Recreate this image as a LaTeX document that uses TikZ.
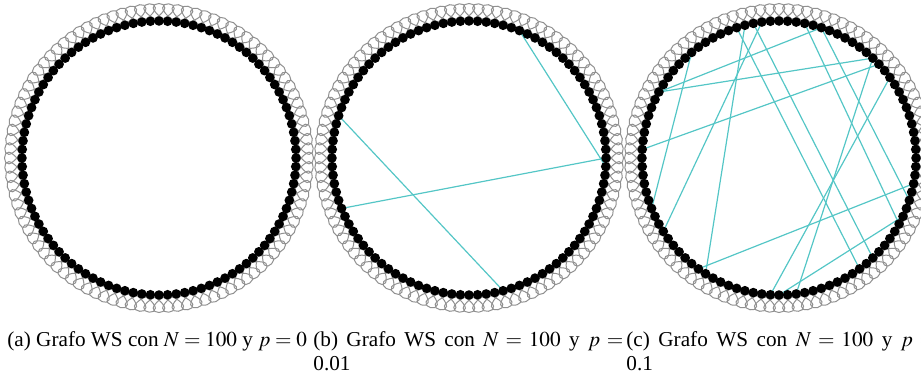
\documentclass[tikz,border=0pt]{standalone}
\usepackage{mathptmx}
\usepackage{fontspec}
\setmainfont{Liberation Serif}
\definecolor{wscyan}{RGB}{84,198,198}
\definecolor{wsgray}{RGB}{145,145,145}
\begin{document}
\begin{tikzpicture}[x=0.5pt,y=0.5pt,
  vtx/.style={circle,fill=black,inner sep=0pt,minimum size=4.8pt},
  ring/.style={draw=wsgray,line width=0.5pt},
  chord/.style={draw=wscyan,line width=0.6pt},
  captext/.style={anchor=base west,inner sep=0pt,text width=155pt,align=justify,font=\fontsize{10.6}{12}\selectfont}]
\useasboundingbox (0,0) rectangle (921,372);
% vertex positions
\foreach \g/\cx in {a/159,b/469,c/779}{
  \foreach \i in {0,...,99}{
    \coordinate (\g\i) at ([shift={(\cx,214)}]\i*3.6:137);
  }
}
% ring lattice loops (i -- i+2)
\foreach \g in {a,b,c}{
  \foreach \i in {0,...,99}{
    \pgfmathtruncatemacro{\j}{mod(\i+2,100)}
    \pgfmathsetmacro{\aa}{\i*3.6+64}
    \pgfmathsetmacro{\bb}{(\i+2)*3.6-64}
    \draw[ring] (\g\i) .. controls +(\aa:48) and +(\bb:48) .. (\g\j);
  }
}
% rewired edges
\foreach \u/\v in {19/99,45/79,56/0}{
  \draw[chord] (b\u) -- (b\v);
}
\foreach \u/\v in {20/42,13/42,12/49,29/66,27/59,30/85,28/87,22/92,20/95,74/10,77/13,65/97,56/36,75/93}{
  \draw[chord] (c\u) -- (c\v);
}
% vertices
\foreach \g in {a,b,c}{
  \foreach \i in {0,...,99}{
    \node[vtx] (v\g\i) at (\g\i) {};
  }
}
% captions
\node[captext] (capa) at (7,26) {(a) Grafo WS con $N=100$ y $p=0$};
\node[captext] (capb) at (313,26) {(b) Grafo WS con $N=100$ y $p=$\linebreak 0.01};
\node[captext] (capc) at (626,26) {(c) Grafo WS con $N=100$ y $p=$\linebreak 0.1};
\end{tikzpicture}
\end{document}
